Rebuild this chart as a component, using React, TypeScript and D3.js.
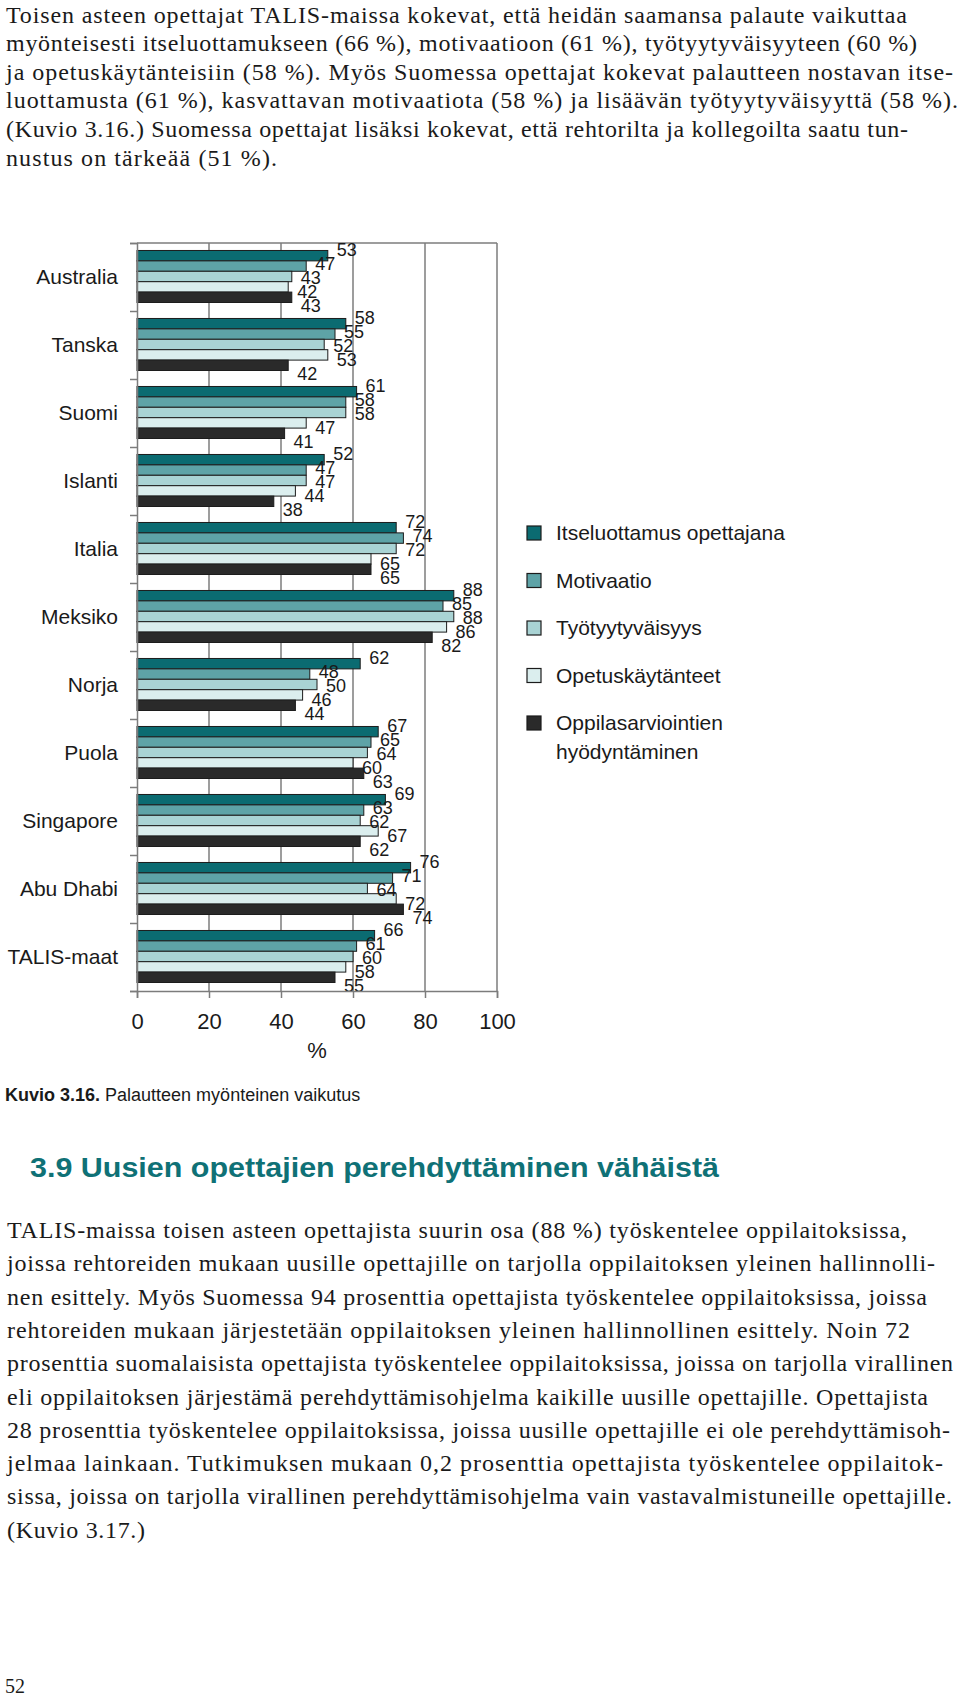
import React, { useRef, useEffect } from 'react';
import * as d3 from 'd3';

// kuvion data
const categories = ['Australia', 'Tanska', 'Suomi', 'Islanti', 'Italia', 'Meksiko', 'Norja', 'Puola', 'Singapore', 'Abu Dhabi', 'TALIS-maat'];
const seriesKeys = ['itseluottamus', 'motivaatio', 'tyytyvaisyys', 'kaytanteet', 'arviointi'];
const itseluottamus = [53, 58, 61, 52, 72, 88, 62, 67, 69, 76, 66];
const motivaatio = [47, 55, 58, 47, 74, 85, 48, 65, 63, 71, 61];
const tyytyvaisyys = [43, 52, 58, 47, 72, 88, 50, 64, 62, 64, 60];
const kaytanteet = [42, 53, 47, 44, 65, 86, 46, 60, 67, 72, 58];
const arviointi = [43, 42, 41, 38, 65, 82, 44, 63, 62, 74, 55];
const legendLabels = [['Itseluottamus opettajana'], ['Motivaatio'], ['Työtyytyväisyys'], ['Opetuskäytänteet'], ['Oppilasarviointien', 'hyödyntäminen']];
const xTicks = [0, 20, 40, 60, 80, 100];

const seriesColors = ['#0b6b71', '#5ea3a7', '#a9d3d4', '#dbeeee', '#2a2a2a'];

const topText = [
  { t: 'Toisen asteen opettajat TALIS-maissa kokevat, että heidän saamansa palaute vaikuttaa', w: 901 },
  { t: 'myönteisesti itseluottamukseen (66 %), motivaatioon (61 %), työtyytyväisyyteen (60 %)', w: 911 },
  { t: 'ja opetuskäytänteisiin (58 %).  Myös Suomessa opettajat kokevat palautteen nostavan itse-', w: 947 },
  { t: 'luottamusta (61 %), kasvattavan motivaatiota (58 %) ja lisäävän työtyytyväisyyttä (58 %).', w: 952 },
  { t: '(Kuvio 3.16.) Suomessa opettajat lisäksi kokevat, että rehtorilta ja kollegoilta saatu tun-', w: 902 },
  { t: 'nustus on tärkeää (51 %).', w: 271 },
];

const bottomText = [
  { t: 'TALIS-maissa toisen asteen opettajista suurin osa (88 %) työskentelee oppilaitoksissa,', w: 900 },
  { t: 'joissa rehtoreiden mukaan uusille opettajille on tarjolla oppilaitoksen yleinen hallinnolli-', w: 928 },
  { t: 'nen esittely. Myös Suomessa 94 prosenttia opettajista työskentelee oppilaitoksissa, joissa', w: 920 },
  { t: 'rehtoreiden mukaan järjestetään oppilaitoksen yleinen hallinnollinen esittely. Noin 72', w: 903 },
  { t: 'prosenttia suomalaisista opettajista työskentelee oppilaitoksissa, joissa on tarjolla virallinen', w: 946 },
  { t: 'eli oppilaitoksen järjestämä perehdyttämisohjelma kaikille uusille opettajille. Opettajista', w: 921 },
  { t: '28 prosenttia työskentelee oppilaitoksissa, joissa uusille opettajille ei ole perehdyttämisoh-', w: 943 },
  { t: 'jelmaa lainkaan. Tutkimuksen mukaan 0,2 prosenttia opettajista työskentelee oppilaitok-', w: 936 },
  { t: 'sissa, joissa on tarjolla virallinen perehdyttämisohjelma vain vastavalmistuneille opettajille.', w: 945 },
  { t: '(Kuvio 3.17.)', w: 138 },
];

const sans = '"Liberation Sans", Arial, Helvetica, sans-serif';
const serif = '"Liberation Serif", "Times New Roman", serif';

const App: React.FC = () => {
  const svgRef = useRef<SVGSVGElement | null>(null);
  const W = 960;
  const H = 1697;

  useEffect(() => {
    if (!svgRef.current) return;
    const svg = d3.select(svgRef.current);
    svg.selectAll('*').remove();

    const values = [itseluottamus, motivaatio, tyytyvaisyys, kaytanteet, arviointi];
    const rows = categories.map((c, ci) => ({
      category: c,
      items: seriesKeys.map((k, si) => ({ key: k, si, value: values[si][ci] })),
    }));

    // leipäteksti ylhäällä
    svg.append('g')
      .selectAll('text')
      .data(topText)
      .enter().append('text')
      .attr('x', 6)
      .attr('y', (_, i) => 22.5 + i * 28.6)
      .attr('textLength', d => d.w)
      .attr('lengthAdjust', 'spacing')
      .style('font-family', serif)
      .style('font-size', '24px')
      .attr('fill', '#1a1a1a')
      .text(d => d.t);

    const left = 137, right = 497, top = 243, bottom = 991;
    const grey = '#7c7c7c';

    const x = d3.scaleLinear().domain([0, 100]).range([left, right]);
    const y0 = d3.scaleBand<string>().domain(categories).range([top, bottom]);
    const bw = y0.bandwidth();
    const y1 = d3.scaleBand<string>().domain(seriesKeys).range([bw * 0.11, bw * 0.875]);
    const yEdge = d3.scaleLinear().domain([0, categories.length]).range([top, bottom]);
    const color = d3.scaleOrdinal<string, string>().domain(seriesKeys).range(seriesColors);

    // ruudukko ja kehys
    svg.append('g')
      .selectAll('line')
      .data(xTicks.slice(1))
      .enter().append('line')
      .attr('x1', d => x(d)).attr('x2', d => x(d))
      .attr('y1', top).attr('y2', bottom)
      .attr('stroke', grey).attr('stroke-width', 1.5);

    svg.append('line')
      .attr('x1', left).attr('x2', x(100))
      .attr('y1', top).attr('y2', top)
      .attr('stroke', grey).attr('stroke-width', 1.5);

    // palkit
    const groups = svg.append('g')
      .selectAll('g')
      .data(rows)
      .enter().append('g')
      .attr('transform', d => `translate(0,${y0(d.category)})`);

    groups.selectAll('rect')
      .data(d => d.items)
      .enter().append('rect')
      .attr('x', x(0))
      .attr('y', d => y1(d.key)!)
      .attr('width', d => x(d.value) - x(0))
      .attr('height', y1.bandwidth())
      .attr('fill', d => color(d.key))
      .attr('stroke', '#1c1c1c')
      .attr('stroke-width', 1);

    // arvot palkkien perään, porrastettuina kuten alkuperäisessä
    groups.selectAll('text')
      .data(d => d.items)
      .enter().append('text')
      .attr('x', d => x(d.value) + 9)
      .attr('y', d => y1(d.key)! + y1.bandwidth() / 2 + 1 + (d.si - 2) * 3.5)
      .attr('dy', '0.35em')
      .style('font-family', sans)
      .style('font-size', '18px')
      .attr('fill', '#1a1a1a')
      .text(d => d.value);

    // akselit
    const yAxis = svg.append('g')
      .attr('transform', `translate(${left},0)`)
      .call(d3.axisLeft(yEdge).tickValues(d3.range(categories.length + 1)).tickSize(7).tickFormat(() => ''));

    const xAxis = svg.append('g')
      .attr('transform', `translate(0,${bottom})`)
      .call(d3.axisBottom(x).tickValues(xTicks).tickSize(7).tickPadding(15).tickFormat(d3.format('d')));

    [yAxis, xAxis].forEach(a => {
      a.selectAll('path, line').attr('stroke', grey).attr('stroke-width', 1.5);
      a.selectAll('text')
        .attr('fill', '#1a1a1a')
        .style('font-family', sans)
        .style('font-size', '22px');
    });

    svg.append('text')
      .attr('x', (left + right) / 2)
      .attr('y', 1058)
      .attr('text-anchor', 'middle')
      .style('font-family', sans)
      .style('font-size', '22px')
      .attr('fill', '#1a1a1a')
      .text('%');

    // maiden nimet
    svg.append('g')
      .selectAll('text')
      .data(categories)
      .enter().append('text')
      .attr('x', 118)
      .attr('y', d => y0(d)! + bw / 2)
      .attr('dy', '0.35em')
      .attr('text-anchor', 'end')
      .style('font-family', sans)
      .style('font-size', '21px')
      .attr('fill', '#1a1a1a')
      .text(d => d);

    // selite
    const legend = svg.append('g')
      .selectAll('g')
      .data(seriesKeys)
      .enter().append('g')
      .attr('transform', (_, i) => `translate(527,${533 + i * 47.5})`);

    legend.append('rect')
      .attr('x', 0).attr('y', -7)
      .attr('width', 14).attr('height', 14)
      .attr('fill', d => color(d))
      .attr('stroke', '#1c1c1c')
      .attr('stroke-width', 1.2);

    legend.each(function (_, i) {
      const g = d3.select(this);
      legendLabels[i].forEach((line, li) => {
        g.append('text')
          .attr('x', 29)
          .attr('y', li * 29)
          .attr('dy', '0.35em')
          .style('font-family', sans)
          .style('font-size', '21px')
          .attr('fill', '#1a1a1a')
          .text(line);
      });
    });

    // kuvateksti
    const cap = svg.append('text')
      .attr('x', 5)
      .attr('y', 1101)
      .style('font-family', sans)
      .style('font-size', '18px')
      .attr('fill', '#1a1a1a');
    cap.append('tspan').style('font-weight', 'bold').text('Kuvio 3.16.');
    cap.append('tspan').text(' Palautteen myönteinen vaikutus');

    // otsikko
    svg.append('text')
      .attr('x', 30)
      .attr('y', 1177)
      .attr('textLength', 689)
      .attr('lengthAdjust', 'spacingAndGlyphs')
      .style('font-family', sans)
      .style('font-size', '28px')
      .style('font-weight', 'bold')
      .attr('fill', '#0f7176')
      .text('3.9 Uusien opettajien perehdyttäminen vähäistä');

    svg.append('g')
      .selectAll('text')
      .data(bottomText)
      .enter().append('text')
      .attr('x', 7)
      .attr('y', (_, i) => 1238 + i * 33.3)
      .attr('textLength', d => d.w)
      .attr('lengthAdjust', 'spacing')
      .style('font-family', serif)
      .style('font-size', '24px')
      .attr('fill', '#1a1a1a')
      .text(d => d.t);

    // sivunumero
    svg.append('text')
      .attr('x', 5)
      .attr('y', 1693)
      .style('font-family', serif)
      .style('font-size', '20px')
      .attr('fill', '#1a1a1a')
      .text('52');
  }, []);

  return (
    <svg
      ref={svgRef}
      width={W}
      height={H}
      style={{ position: 'absolute', left: 0, top: 0, background: '#fff' }}
    />
  );
};

export default App;
